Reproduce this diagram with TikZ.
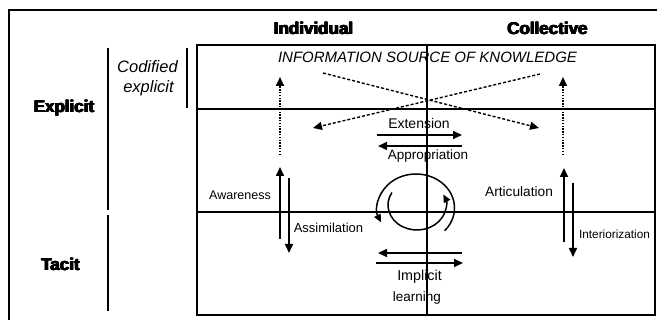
\documentclass[tikz,border=0pt]{standalone}
\usepackage{fontspec}
\setmainfont{Liberation Sans}
\newfontface\heavyfont{Liberation Sans Bold}
\newcommand\hvy[1]{\makebox[0pt][l]{\hspace{1pt}#1}\makebox[0pt][l]{\raisebox{0.5pt}{#1}}\makebox[0pt][l]{\hspace{1pt}\raisebox{0.5pt}{#1}}\makebox[0pt][l]{\hspace{0.5pt}\raisebox{0.25pt}{#1}}\makebox[0pt][l]{\hspace{0.5pt}#1}#1\hspace{1pt}}
\usetikzlibrary{arrows.meta,calc}
\tikzset{
  gridline/.style={line width=1.6pt},
  framel/.style={line width=2.2pt},
  tip/.style={-{Triangle[length=9pt,width=8pt]}},
  solidarr/.style={line width=1.6pt,tip},
  dasharr/.style={line width=1.4pt,dash pattern=on 3pt off 2pt,tip},
  dotarr/.style={line width=1.6pt,dash pattern=on 1.4pt off 1.4pt,tip},
  cyc/.style={line width=1.5pt,-{Triangle[length=8pt,width=7pt]}},
  lbl/.style={inner sep=0pt,anchor=base,font=\fontsize{13.5}{16}\selectfont},
  head/.style={inner sep=0pt,anchor=base,font=\heavyfont\fontsize{17}{20}\selectfont},
  itl/.style={inner sep=0pt,anchor=base,font=\itshape\fontsize{16.5}{20}\selectfont},
}
\begin{document}
\begin{tikzpicture}[x=1pt,y=-1pt]
\useasboundingbox (0,0) rectangle (657,320);
% outer frame
\draw[framel] (9,320) -- (9,10) -- (657,10);
% left separators
\draw[gridline] (108,48) -- (108,210);
\draw[gridline] (108,215) -- (108,311);
\draw[gridline] (187,48) -- (187,108);
% grid
\draw[gridline] (197,45) rectangle (655,315);
\draw[gridline] (197,109) -- (655,109);
\draw[gridline] (197,212) -- (655,212);
\draw[gridline] (427,45) -- (427,315);
% headings
\node[head] (ind) at (313,35) {\hvy{Individual}};
\node[head] (col) at (547,35) {\hvy{Collective}};
\node[head] (exp) at (63.5,113) {\hvy{Explicit}};
\node[head] (tac) at (60,271) {\hvy{Tacit}};
\node[itl] (cod1) at (147.5,73) {Codified};
\node[itl] (cod2) at (148.5,93) {explicit};
\node[inner sep=0pt,anchor=base,font=\itshape\fontsize{15}{18}\selectfont] (info) at (427.5,63) {INFORMATION SOURCE OF KNOWLEDGE};
% labels
\node[lbl,font=\fontsize{14}{16}\selectfont] (ext) at (419,129) {Extension};
\node[lbl] (app) at (428,160) {Appropriation};
\node[lbl,font=\fontsize{12.5}{15}\selectfont] (awa) at (240,200) {Awareness};
\node[lbl,font=\fontsize{13}{15}\selectfont] (ass) at (328.5,233) {Assimilation};
\node[lbl,font=\fontsize{13.7}{16}\selectfont] (art) at (519,197) {Articulation};
\node[lbl,font=\fontsize{11.8}{14}\selectfont] (int) at (614.5,239) {Interiorization};
\node[lbl,font=\fontsize{14.3}{16}\selectfont] (imp1) at (419.5,281) {Implicit};
\node[lbl] (imp2) at (417,302) {learning};
% arrow end points
\coordinate (d1s) at (323,73);  \coordinate (d1e) at (539,128);
\coordinate (d2s) at (540,74);  \coordinate (d2e) at (313,128);
\coordinate (v1s) at (280,155); \coordinate (v1e) at (280,77);
\coordinate (v2s) at (563,155); \coordinate (v2e) at (563,77);
\coordinate (aws) at (280,239); \coordinate (awe) at (280,167);
\coordinate (ass1) at (289,178); \coordinate (ase) at (289,253);
\coordinate (ars) at (564,242); \coordinate (are) at (564,168);
\coordinate (ins) at (573,183); \coordinate (ine) at (573,257);
\coordinate (exs) at (377,135); \coordinate (exe) at (462,135);
\coordinate (aps) at (462,146); \coordinate (ape) at (378,146);
\coordinate (ils) at (462,253); \coordinate (ile) at (378,253);
\coordinate (irs) at (376,263); \coordinate (ire) at (463,263);
% dashed cross
\draw[dasharr] (d1s) -- (d1e);
\draw[dasharr] (d2s) -- (d2e);
% dotted verticals
\draw[dotarr] (v1s) -- (v1e);
\draw[dotarr] (v2s) -- (v2e);
% solid arrows
\draw[solidarr] (aws) -- (awe);
\draw[solidarr] (ass1) -- (ase);
\draw[solidarr] (ars) -- (are);
\draw[solidarr] (ins) -- (ine);
\draw[solidarr] (exs) -- (exe);
\draw[solidarr] (aps) -- (ape);
\draw[solidarr] (ils) -- (ile);
\draw[solidarr] (irs) -- (ire);
% cycle
\coordinate (oc) at (416,208);
\coordinate (ic) at (417,205);
\draw[cyc] ($(oc)+(-42:38.5pt and 34pt)$) arc[start angle=-42,end angle=205,x radius=38.5pt,y radius=34pt];
\draw[cyc] ($(ic)+(150:29pt and 25pt)$) arc[start angle=150,end angle=385,x radius=29pt,y radius=25pt];
\end{tikzpicture}
\end{document}
